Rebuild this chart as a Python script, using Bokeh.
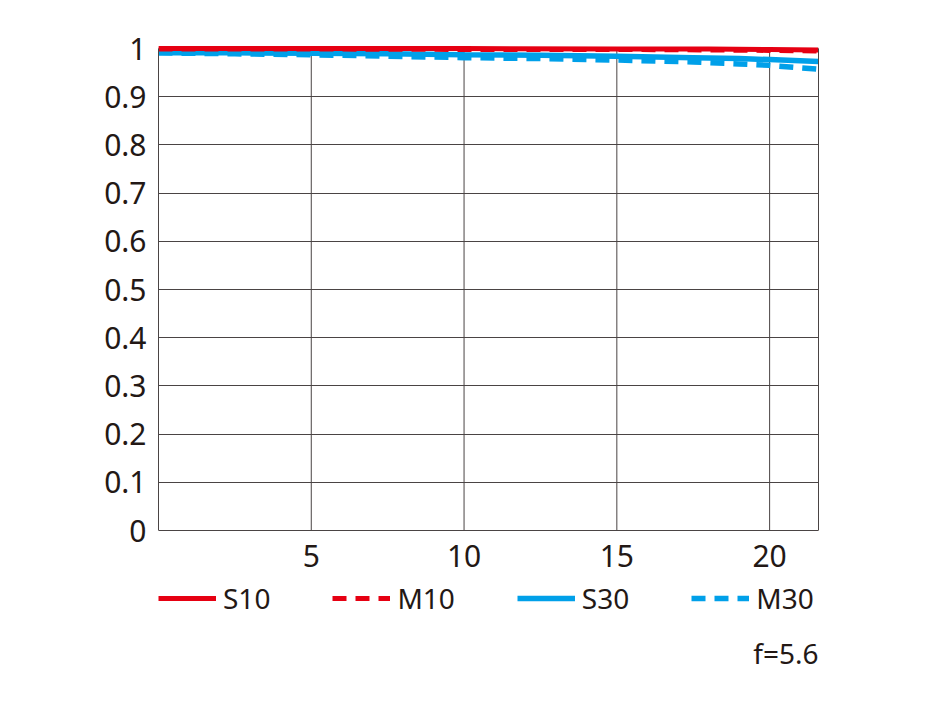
from bokeh.plotting import figure
from bokeh.models import Legend, LegendItem, LinearAxis, FixedTicker, Label, Range1d
from bokeh.core.properties import value
from bokeh.embed import file_html
from bokeh.resources import INLINE

# ---- data ----
x_s10 = [0, 5, 10, 15, 18, 20, 21.6]
y_s10 = [1.0, 1.0, 1.0, 0.999, 0.999, 0.998, 0.997]

x_m10 = [0, 5, 10, 15, 18, 20, 21.6]
y_m10 = [0.999, 0.999, 0.998, 0.998, 0.997, 0.996, 0.995]

x_s30 = [0, 2.5, 5, 7.5, 10, 12.5, 15, 17.5, 19, 20, 21.6]
y_s30 = [0.991, 0.991, 0.990, 0.989, 0.987, 0.986, 0.984, 0.981, 0.979, 0.977, 0.973]

x_m30 = [0, 2.5, 5, 7.5, 10, 12.5, 15, 17.5, 19, 20, 21.6]
y_m30 = [0.991, 0.989, 0.987, 0.984, 0.981, 0.979, 0.976, 0.972, 0.968, 0.965, 0.957]

x_ticks = [5, 10, 15, 20]
x_tick_labels = ["5", "10", "15", "20"]
y_ticks = [0, 0.1, 0.2, 0.3, 0.4, 0.5, 0.6, 0.7, 0.8, 0.9, 1]
y_tick_labels = ["0", "0.1", "0.2", "0.3", "0.4", "0.5", "0.6", "0.7", "0.8", "0.9", "1"]
series_names = ["S10", "M10", "S30", "M30"]
note_text = "f=5.6"

X_MAX = 21.6
Y_MIN, Y_MAX = 0, 1

RED = "#e60012"
BLUE = "#00a0e9"
GRID = "#4a4444"
TEXT = "#231815"
FONT = "Noto Sans"

# frame extends below the value axis so the legend and note sit inside it
p = figure(frame_width=660, frame_height=650, x_range=Range1d(0, X_MAX),
           y_range=Range1d(-0.3402, 1.0083),
           output_backend="svg", toolbar_location=None, title=None,
           x_axis_location=None, y_axis_location=None,
           min_border_left=158, min_border_right=90, min_border_top=44, min_border_bottom=0)
p.outline_line_color = None
p.background_fill_color = "white"

# left axis (value axis), limited to 0..1
yax = LinearAxis(ticker=FixedTicker(ticks=y_ticks), bounds=(Y_MIN, Y_MAX),
                 axis_line_color=GRID, axis_line_width=1,
                 major_tick_line_color=None, minor_tick_line_color=None,
                 major_label_text_font=FONT, major_label_text_font_size="30px",
                 major_label_text_color=TEXT, major_label_standoff=6,
                 major_label_overrides={t: l for t, l in zip(y_ticks, y_tick_labels)})
p.add_layout(yax, "left")

# right border line
right_ax = LinearAxis(ticker=FixedTicker(ticks=[]), bounds=(Y_MIN, Y_MAX),
                      axis_line_color=GRID, axis_line_width=1,
                      major_tick_line_color=None, minor_tick_line_color=None)
p.add_layout(right_ax, "right")

# horizontal grid lines (0 is the bottom axis line)
p.xgrid.visible = False
p.ygrid.ticker = FixedTicker(ticks=y_ticks)
p.ygrid.grid_line_color = GRID
p.ygrid.grid_line_width = 1

# vertical grid lines at the x ticks, from 0 to 1
p.segment(x0=x_ticks, y0=[Y_MIN] * len(x_ticks), x1=x_ticks, y1=[Y_MAX] * len(x_ticks),
          line_color=GRID, line_width=1)

# x tick labels
p.text(x=x_ticks, y=[Y_MIN] * len(x_ticks), text=x_tick_labels, text_align="center",
       text_baseline="middle", y_offset=25, text_font=value(FONT),
       text_font_size="30px", text_color=TEXT)

# lines (blue first, red on top)
r_m30 = p.line(x_m30, y_m30, line_color=BLUE, line_width=5.5, line_dash="14 9")
r_s30 = p.line(x_s30, y_s30, line_color=BLUE, line_width=5.5)
r_m10 = p.line(x_m10, y_m10, line_color=RED, line_width=5, line_dash="14 9")
r_s10 = p.line(x_s10, y_s10, line_color=RED, line_width=5)

legend = Legend(items=[LegendItem(label=series_names[0], renderers=[r_s10]),
                       LegendItem(label=series_names[1], renderers=[r_m10]),
                       LegendItem(label=series_names[2], renderers=[r_s30]),
                       LegendItem(label=series_names[3], renderers=[r_m30])],
                orientation="horizontal", location=(0, 77),
                glyph_width=58, glyph_height=20, label_standoff=7, spacing=62,
                label_width=20, padding=0, margin=0,
                border_line_color=None, background_fill_alpha=0,
                label_text_font=FONT, label_text_font_size="28px", label_text_color=TEXT)
p.add_layout(legend, "center")

note = Label(x=X_MAX, y=-0.255, text=note_text, text_align="right", text_baseline="middle",
             text_font=FONT, text_font_size="28px", text_color=TEXT)
p.add_layout(note)

open("out.html", "w").write(file_html(p, INLINE))
